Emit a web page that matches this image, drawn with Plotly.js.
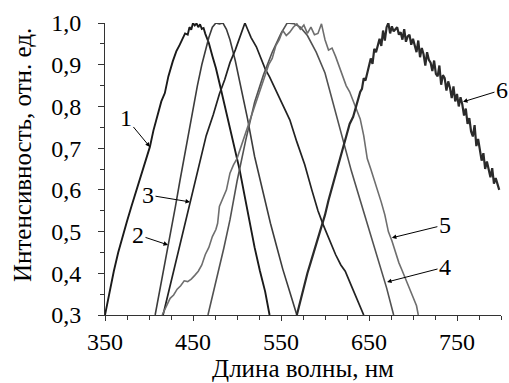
<!DOCTYPE html>
<html><head><meta charset="utf-8">
<script src="https://cdn.plot.ly/plotly-3.0.1.min.js"></script>
<style>html,body{margin:0;padding:0;background:#fff}#chart{width:509px;height:383px}</style>
</head><body><div id="chart"></div>
<script>
// Curve 1
const wl1 = [350,355,360,365,370,375,380,386,391,396,401,405,410,414,418,422,427,431,435,438,441,444,446,448,450,452,454,456,458,460,462,464,468,472,476,481,485,490,496,503,509,515,520,526,532,537];
const s1  = [0.30,0.355,0.405,0.45,0.49,0.525,0.56,0.60,0.635,0.67,0.703,0.742,0.778,0.812,0.832,0.872,0.908,0.932,0.948,0.962,0.975,0.972,0.99,0.984,1.0,0.994,0.999,0.99,0.997,0.986,0.988,0.974,0.952,0.921,0.892,0.848,0.812,0.768,0.712,0.648,0.582,0.516,0.462,0.406,0.356,0.30];
// Curve 2
const wl2 = [407,412,416,420,425,430,435,440,445,450,455,460,464,468,472,476,480,484,488,492,498,505,512,520,530,538,545,552,560,568];
const s2  = [0.30,0.355,0.40,0.445,0.50,0.56,0.62,0.68,0.74,0.80,0.85,0.90,0.935,0.965,0.99,1.0,0.998,1.0,0.985,0.96,0.91,0.84,0.77,0.68,0.59,0.52,0.465,0.41,0.355,0.30];
// Curve 3
const wl3 = [416,420,425,430,435,441,446,452,458,465,473,480,486,492,498,503,507,509,512,516,522,528,532,537,544,550,556,560,568,577,585,592,598,605,612,618,623,630,637,644];
const s3  = [0.30,0.335,0.38,0.425,0.47,0.523,0.57,0.62,0.67,0.73,0.78,0.83,0.864,0.905,0.935,0.965,0.99,1.0,0.985,0.965,0.943,0.91,0.89,0.871,0.84,0.81,0.785,0.768,0.715,0.66,0.60,0.55,0.516,0.48,0.445,0.42,0.405,0.37,0.335,0.30];
// Curve 4
const wl4 = [467,475,485,492,500,510,520,530,540,550,557,565,572,580,590,600,610,620,630,640,650,660,670,678];
const s4  = [0.30,0.37,0.46,0.528,0.62,0.72,0.81,0.875,0.93,0.975,1.0,0.998,0.99,0.97,0.93,0.88,0.80,0.72,0.645,0.575,0.505,0.435,0.365,0.30];
// Curve 5
const wl5 = [415,420,424,428,432,436,440,444,448,452,456,460,464,468,472,476,478,480,484,488,492,496,500,504,508,512,516,520,524,528,532,536,540,544,548,552,556,560,564,568,572,576,580,584,588,592,596,600,604,608,612,616,620,624,628,632,636,640,644,648,652,656,660,664,668,672,676,680,684,688,692,696,700,704,706];
const s5  = [0.300,0.322,0.340,0.348,0.362,0.370,0.382,0.380,0.386,0.395,0.405,0.420,0.445,0.462,0.488,0.505,0.520,0.560,0.580,0.600,0.640,0.660,0.675,0.700,0.725,0.750,0.770,0.800,0.825,0.850,0.875,0.900,0.915,0.945,0.960,0.982,0.970,0.978,0.990,0.998,0.985,0.995,0.975,0.990,0.972,0.975,0.998,0.960,0.935,0.940,0.920,0.895,0.870,0.850,0.835,0.812,0.792,0.770,0.730,0.675,0.650,0.625,0.595,0.570,0.540,0.500,0.478,0.450,0.425,0.405,0.385,0.365,0.345,0.322,0.300];
// Curve 6
const wl6 = [568,572,576,580,584,588,592,596,600,604,608,612,616,620,624,628,632,636,640,
642,644,646,648,650,652,654,656,658,660,662,664,666,668,670,672,674,676,678,680,
682,684,686,688,690,692,694,696,698,700,702,704,706,708,710,712,714,716,718,720,
722,724,726,728,730,732,734,736,738,740,742,744,746,748,750,752,754,756,758,760,
762,764,766,768,770,772,774,776,778,780,782,784,786,788,790,792,794,796,798];
const s6  = [0.300,0.335,0.368,0.400,0.428,0.455,0.482,0.515,0.540,0.575,0.605,0.636,0.668,0.700,0.726,0.758,0.775,0.805,0.835,
0.842,0.868,0.862,0.880,0.897,0.915,0.902,0.938,0.930,0.948,
0.962,0.945,0.982,0.958,0.990,1.000,0.975,0.992,0.980,0.985,
0.990,0.972,0.978,0.960,0.985,0.955,0.968,0.972,0.948,0.962,
0.945,0.930,0.958,0.918,0.940,0.925,0.898,0.930,0.912,0.905,
0.885,0.910,0.878,0.872,0.898,0.852,0.875,0.868,0.838,0.860,
0.845,0.820,0.848,0.812,0.830,0.800,0.822,0.805,0.778,0.795,
0.758,0.772,0.740,0.728,0.755,0.705,0.722,0.695,0.670,0.688,
0.650,0.668,0.645,0.630,0.652,0.615,0.628,0.612,0.600];

const curveNames = ['1','2','3','4','5','6'];
const xTickVals = [350,450,550,650,750];
const xTickText = ['350','450','550','650','750'];
const yTickVals = [0.3,0.4,0.5,0.6,0.7,0.8,0.9,1.0];
const yTickText = ['0,3','0,4','0,5','0,6','0,7','0,8','0,9','1,0'];
const xTitle = 'Длина волны, нм';
const yTitle = 'Интенсивность, отн. ед.';
// annotation anchor points (on curves) for labels
const labelX = [401, 421.6, 446.6, 670.5, 676, 756.8];
const labelY = [0.703, 0.468, 0.571, 0.379, 0.485, 0.811];

const FONT = '"Liberation Serif", "Times New Roman", Times, serif';
const styles = [
  {color:'#1a1a1a', width:1.9},
  {color:'#3c3c3c', width:1.6},
  {color:'#222222', width:1.7},
  {color:'#525252', width:1.6},
  {color:'#6e6e6e', width:1.6},
  {color:'#2a2a2a', width:2.2}
];
const xs = [wl1,wl2,wl3,wl4,wl5,wl6];
const ys = [s1,s2,s3,s4,s5,s6];
const traces = xs.map((x,i)=>({x:x, y:ys[i], type:'scatter', mode:'lines', name:curveNames[i], line:{color:styles[i].color, width:styles[i].width}, hoverinfo:'skip'}));

const offs = [[-24,-29],[-30,-10],[-42,-7],[58,-15],[53,-13],[39,-12]];
const annotations = curveNames.map((t,i)=>({x:labelX[i], y:labelY[i], xref:'x', yref:'y', text:t, showarrow:true, arrowhead:2, arrowsize:0.9, arrowwidth:1, arrowcolor:'#000', ax:offs[i][0], ay:offs[i][1], standoff:0, font:{family:FONT, size:24, color:'#000'}}));
// y-axis title placed as a rotated text block left of the tick labels
annotations.push({xref:'paper', yref:'paper', x:-0.207, y:0.548, xanchor:'center', yanchor:'middle', textangle:-90, showarrow:false, text:yTitle, font:{family:FONT, size:25, color:'#000'}});

const layout = {
  width:509, height:383,
  margin:{l:105, r:8, t:23, b:68},
  paper_bgcolor:'#fff', plot_bgcolor:'#fff',
  showlegend:false,
  font:{family:FONT, size:24, color:'#000'},
  xaxis:{range:[350,800], tickmode:'array', tickvals:xTickVals, ticktext:xTickText,
    ticks:'outside', ticklen:5, tickwidth:1, tickcolor:'#333', showline:true, linecolor:'#333', linewidth:1,
    showgrid:false, zeroline:false,
    minor:{dtick:25, tick0:350, ticks:'outside', ticklen:4, tickcolor:'#333', showgrid:false},
    tickfont:{family:FONT, size:24, color:'#000'}, ticklabelstandoff:0,
    title:{text:xTitle, standoff:0, font:{family:FONT, size:25, color:'#000'}}},
  yaxis:{range:[0.3,1.0], tickmode:'array', tickvals:yTickVals, ticktext:yTickText,
    ticks:'outside', ticklen:6, tickwidth:1, tickcolor:'#333', showline:true, linecolor:'#333', linewidth:1,
    showgrid:false, zeroline:false,
    minor:{dtick:0.05, tick0:0.3, ticks:'outside', ticklen:4, tickcolor:'#333', showgrid:false},
    tickfont:{family:FONT, size:24, color:'#000'}, ticklabelstandoff:12},
  annotations:annotations
};
Plotly.newPlot('chart', traces, layout, {displayModeBar:false, staticPlot:true});
</script>
</body></html>
